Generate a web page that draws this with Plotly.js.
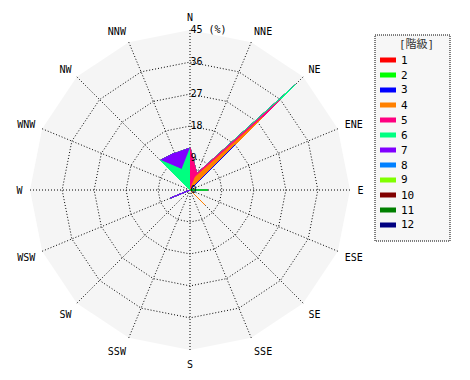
<!DOCTYPE html>
<html><head><meta charset="utf-8">
<script src="https://cdn.plot.ly/plotly-3.0.1.min.js"></script>
<style>html,body{margin:0;padding:0;background:#fff}#chart{width:470px;height:380px}</style>
</head><body><div id="chart"></div>
<script>
const directions = ['N','NNE','NE','ENE','E','ESE','SE','SSE','S','SSW','SW','WSW','W','WNW','NW','NNW'];
const classNames = ['1','2','3','4','5','6','7','8','9','10','11','12'];
const classColors = ['#ff0000','#00ff00','#0000ff','#ff8000','#ff0080','#00ff80','#8000ff','#0080ff','#80ff00','#800000','#008000','#000080'];
//                 N  NNE  NE ENE  E ESE SE SSE S SSW SW WSW W WNW  NW  NNW
const class1  = [  0,  0,   0, 0,  0, 0,  0, 0,  0, 0,  0, 0,  0, 0,  0,    0  ];
const class2  = [  0,  0,   0, 0,  5, 0,  0, 0,  0, 0,  0, 0,  0, 0,  0,    0  ];
const class3  = [  0,  0,  18, 0,  0, 0,  0, 0,  0, 0,  0, 0,  0, 0,  0,    0  ];
const class4  = [  0,  4,  11, 0,  0, 0,  6, 0,  0, 0,  0, 0,  0, 0,  0,    0  ];
const class5  = [ 12,  1,   7, 0,  0, 0,  0, 0,  0, 0,  0, 0,  0, 0,  0,    0  ];
const class6  = [  0,  0,   6, 0,  0, 0,  0, 0,  0, 0,  0, 0,  0, 0, 11.8, 6.3];
const class7  = [  0,  0,   0, 0,  0, 0,  0, 0,  0, 0,  0, 6,  0, 0,  0,    5  ];
const class8  = [  0,  0,   0, 0,  0, 0,  0, 0,  0, 0,  0, 0,  0, 0,  0,    0  ];
const class9  = [  0,  0,   0, 0,  0, 0,  0, 0,  0, 0,  0, 0,  0, 0,  0,    0  ];
const class10 = [  0,  0,   0, 0,  0, 0,  0, 0,  0, 0,  0, 0,  0, 0,  0,    0  ];
const class11 = [  0,  0,   0, 0,  0, 0,  0, 0,  0, 0,  0, 0,  0, 0,  0,    0  ];
const class12 = [  0,  0,   0, 0,  0, 0,  0, 0,  0, 0,  0, 0,  0, 0,  0,    0  ];
const classValues = [class1,class2,class3,class4,class5,class6,class7,class8,class9,class10,class11,class12];
const radialTicks = [0, 9, 18, 27, 36, 45];
const radialTickText = ['0', '9', '18', '27', '36', '45 (%)'];
const legendTitle = '[階級]';

const FONT = 'DejaVu Sans Mono, Noto Sans CJK JP, monospace';
const W = 470, H = 380;
const px = x => x / W, py = y => 1 - y / H;

// cumulative stacking
const cum = [];
let run = directions.map(() => 0);
classValues.forEach(vals => { run = run.map((v, i) => v + vals[i]); cum.push(run.slice()); });

const traces = [];
for (let k = classValues.length - 1; k >= 0; k--) {
  traces.push({
    type: 'scatterpolar', mode: 'lines', fill: 'toself',
    r: cum[k], theta: directions, name: classNames[k],
    fillcolor: classColors[k], line: {color: classColors[k], width: 1},
    hoverinfo: 'skip', showlegend: false
  });
}

const shapes = [{
  type: 'rect', xref: 'paper', yref: 'paper',
  x0: px(375), x1: px(450), y0: py(35), y1: py(241),
  line: {color: '#000', width: 1, dash: '1px,1px'}, fillcolor: '#f7f7f7', layer: 'below'
}];
const annotations = [{
  xref: 'paper', yref: 'paper', x: px(416), y: py(44), text: legendTitle, showarrow: false,
  font: {family: FONT, size: 11, color: '#333'}, xanchor: 'center', yanchor: 'middle'
}];
classNames.forEach((n, i) => {
  const yc = 60 + i * 15;
  shapes.push({type: 'rect', xref: 'paper', yref: 'paper', x0: px(380), x1: px(396), y0: py(yc - 2.5), y1: py(yc + 2.5),
    line: {width: 0}, fillcolor: classColors[i]});
  annotations.push({xref: 'paper', yref: 'paper', x: px(399), y: py(yc), text: n, showarrow: false,
    xanchor: 'left', yanchor: 'middle', font: {family: FONT, size: 11, color: '#000'}});
});

const rMax = radialTicks[radialTicks.length - 1];
const layout = {
  width: W, height: H, margin: {l: 0, r: 0, t: 0, b: 0},
  paper_bgcolor: '#fff', showlegend: false,
  font: {family: FONT, size: 10, color: '#000'},
  polar: {
    domain: {x: [px(30), px(350)], y: [py(350), py(30)]},
    bgcolor: '#f5f5f5', gridshape: 'linear',
    angularaxis: {
      type: 'category', categoryarray: directions, direction: 'clockwise', rotation: 90,
      showgrid: true, gridcolor: '#000', gridwidth: 1, griddash: '1px,2px',
      showline: false, ticks: 'outside', ticklen: 5, tickcolor: 'rgba(0,0,0,0)',
      tickfont: {family: FONT, size: 10, color: '#000'},
      layer: 'above traces'
    },
    radialaxis: {
      range: [0, rMax * 1.001], tickvals: radialTicks, ticktext: radialTickText, angle: 90, tickangle: 90,
      side: 'clockwise', showline: false, ticks: '', showgrid: true,
      gridcolor: '#000', gridwidth: 1, griddash: '1px 2px',
      tickfont: {family: FONT, size: 10, color: '#000'}
    }
  },
  shapes: shapes, annotations: annotations
};
Plotly.newPlot('chart', traces, layout, {staticPlot: true});
</script></body></html>
